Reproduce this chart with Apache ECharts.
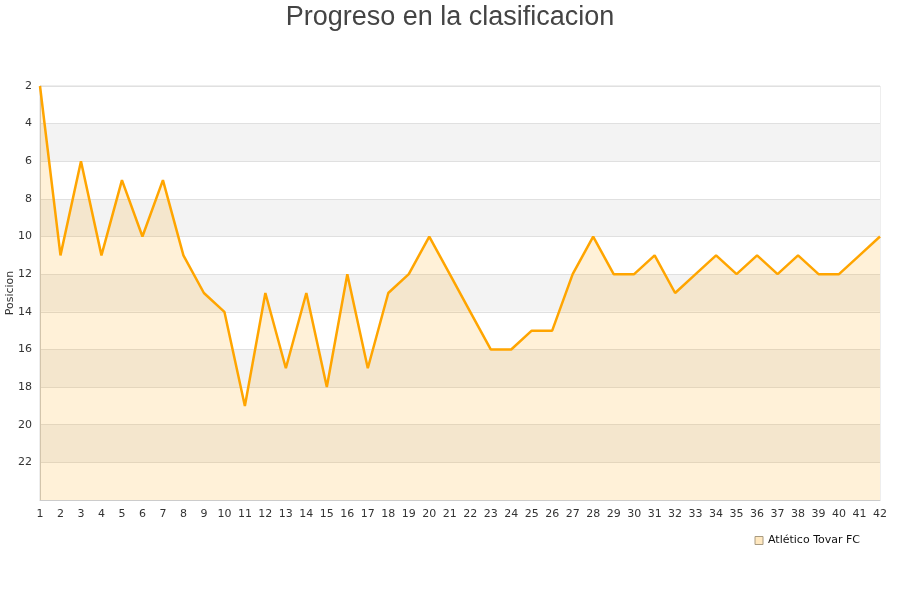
<!DOCTYPE html>
<html>
<head>
<meta charset="utf-8">
<script src="https://cdn.jsdelivr.net/npm/echarts@6/dist/echarts.min.js"></script>
<style>
	html,body{margin:0;padding:0;background:#fff;}
	#chart{width:900px;height:600px;}
</style>
</head>
<body>
<div id="chart"></div>
<script>
	// jornadas 1..42
	var jornadas = [];
	for (var j = 1; j <= 42; j++) { jornadas.push(String(j)); }
	// posicion por jornada
	var posiciones = [2, 11, 6, 11, 7, 10, 7, 11, 13, 14,
		19, 13, 17, 13, 18, 12, 17, 13, 12, 10,
		12, 14, 16, 16, 15, 15, 12, 10, 12, 12,
		11, 13, 12, 11, 12, 11, 12, 11, 12, 12,
		11, 10];
	var equipo = 'Atlético Tovar FC';

	var chart = echarts.init(document.getElementById('chart'));
	var option = {
		animation: false,
		title: {
			text: 'Progreso en la clasificacion',
			left: 'center',
			top: -1,
			textStyle: {
				fontFamily: 'Liberation Sans',
				fontWeight: 'normal',
				fontSize: 27,
				color: '#444'
			}
		},
		legend: {
			data: [{
				name: equipo,
				itemStyle: { color: '#ffe8c0', borderColor: '#a89a80', borderWidth: 1 }
			}],
			right: 35,
			top: 530,
			icon: 'rect',
			itemWidth: 8,
			itemHeight: 8,
			itemGap: 8,
			textStyle: { fontFamily: 'DejaVu Sans', fontSize: 11, color: '#111' }
		},
		grid: {
			left: 40,
			right: 20,
			top: 86,
			bottom: 100,
			outerBoundsMode: 'none',
			show: true,
			borderColor: '#ddd',
			borderWidth: 1
		},
		xAxis: {
			type: 'category',
			boundaryGap: false,
			data: jornadas,
			axisLine: { lineStyle: { color: '#ccc' } },
			axisTick: { show: false },
			axisLabel: {
				interval: 0,
				fontFamily: 'DejaVu Sans',
				fontSize: 11,
				color: '#333',
				margin: 9
			}
		},
		yAxis: {
			type: 'value',
			inverse: true,
			min: 2,
			max: 24,
			interval: 2,
			name: 'Posicion',
			nameLocation: 'middle',
			nameGap: 24,
			nameMoveOverlap: false,
			nameTextStyle: { fontFamily: 'DejaVu Sans', fontSize: 11, color: '#333' },
			axisLine: { show: true, lineStyle: { color: '#ccc' } },
			axisTick: { show: false },
			axisLabel: {
				fontFamily: 'DejaVu Sans',
				fontSize: 11,
				color: '#333',
				margin: 8,
				formatter: function (v) { return v == 24 ? '' : v; }
			},
			splitLine: { lineStyle: { color: '#e0e0e0' } },
			splitArea: {
				show: true,
				areaStyle: { color: ['#ffffff', '#f3f3f3'] }
			}
		},
		series: [
			{
				name: equipo,
				type: 'line',
				data: posiciones,
				showSymbol: false,
				symbol: 'none',
				lineStyle: { color: '#ffa500', width: 2.5 },
				areaStyle: { origin: 'end', color: 'rgba(255,165,0,0.22)' }
			}
		]
	};
	chart.setOption(option);
</script>
</body>
</html>
